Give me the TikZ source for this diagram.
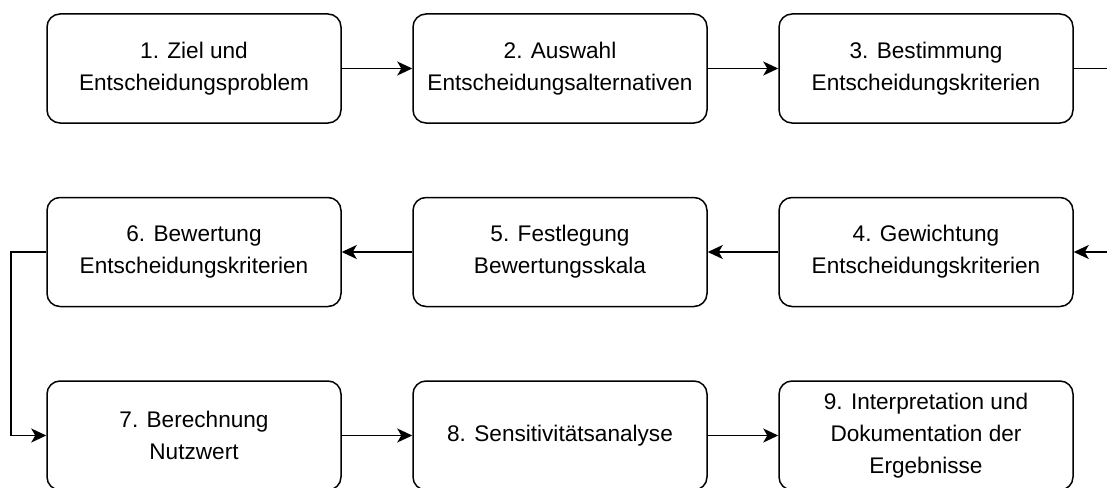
\documentclass[tikz,border=0pt]{standalone}
\usepackage{fontspec}
\setmainfont{Liberation Sans}
\usetikzlibrary{arrows.meta}
\tikzset{
  stepbox/.style={draw, line width=1.5pt, rounded corners=13pt,
    minimum width=294pt, minimum height=109pt, align=center,
    font=\fontsize{22.6}{32}\selectfont, inner sep=0pt},
  flow/.style={line width=1.5pt, -{Stealth[length=15pt,width=14pt,inset=4pt]}},
  plain/.style={line width=1.5pt}
}
\begin{document}
\begin{tikzpicture}[x=1pt,y=-1pt]
  \useasboundingbox (0,0) rectangle (1107,487);
  \clip (0,0) rectangle (1107,487);
  % first row, left to right
  \node[stepbox] (n1) at (194,68.5) {1. Ziel und\\Entscheidungsproblem};
  \node[stepbox] (n2) at (560,68.5) {2. Auswahl\\Entscheidungsalternativen};
  \node[stepbox] (n3) at (926,68.5) {3. Bestimmung\\Entscheidungskriterien};
  % second row, right to left
  \node[stepbox] (n4) at (926,252) {4. Gewichtung\\Entscheidungskriterien};
  \node[stepbox] (n5) at (560,252) {5. Festlegung\\Bewertungsskala};
  \node[stepbox] (n6) at (194,252) {6. Bewertung\\Entscheidungskriterien};
  % third row, left to right
  \node[stepbox] (n7) at (194,435.5) {7. Berechnung\\Nutzwert};
  \node[stepbox] (n8) at (560,435.5) {8. Sensitivitätsanalyse};
  \node[stepbox] (n9) at (926,435.5) {9. Interpretation und\\Dokumentation der\\Ergebnisse};
  % free ends at the right margin
  \coordinate (out3) at (1110,68.5);
  \coordinate (in4) at (1110,252);
  \coordinate (bend) at (11,252);
  % connectors
  \draw[flow] (n1) -- (n2);
  \draw[flow] (n2) -- (n3);
  \draw[plain] (n3.east) -- (out3);
  \draw[flow] (in4) -- (n4.east);
  \draw[flow] (n4) -- (n5);
  \draw[flow] (n5) -- (n6);
  \draw[flow] (n6.west) -- (bend) |- (n7.west);
  \draw[flow] (n7) -- (n8);
  \draw[flow] (n8) -- (n9);
\end{tikzpicture}
\end{document}
